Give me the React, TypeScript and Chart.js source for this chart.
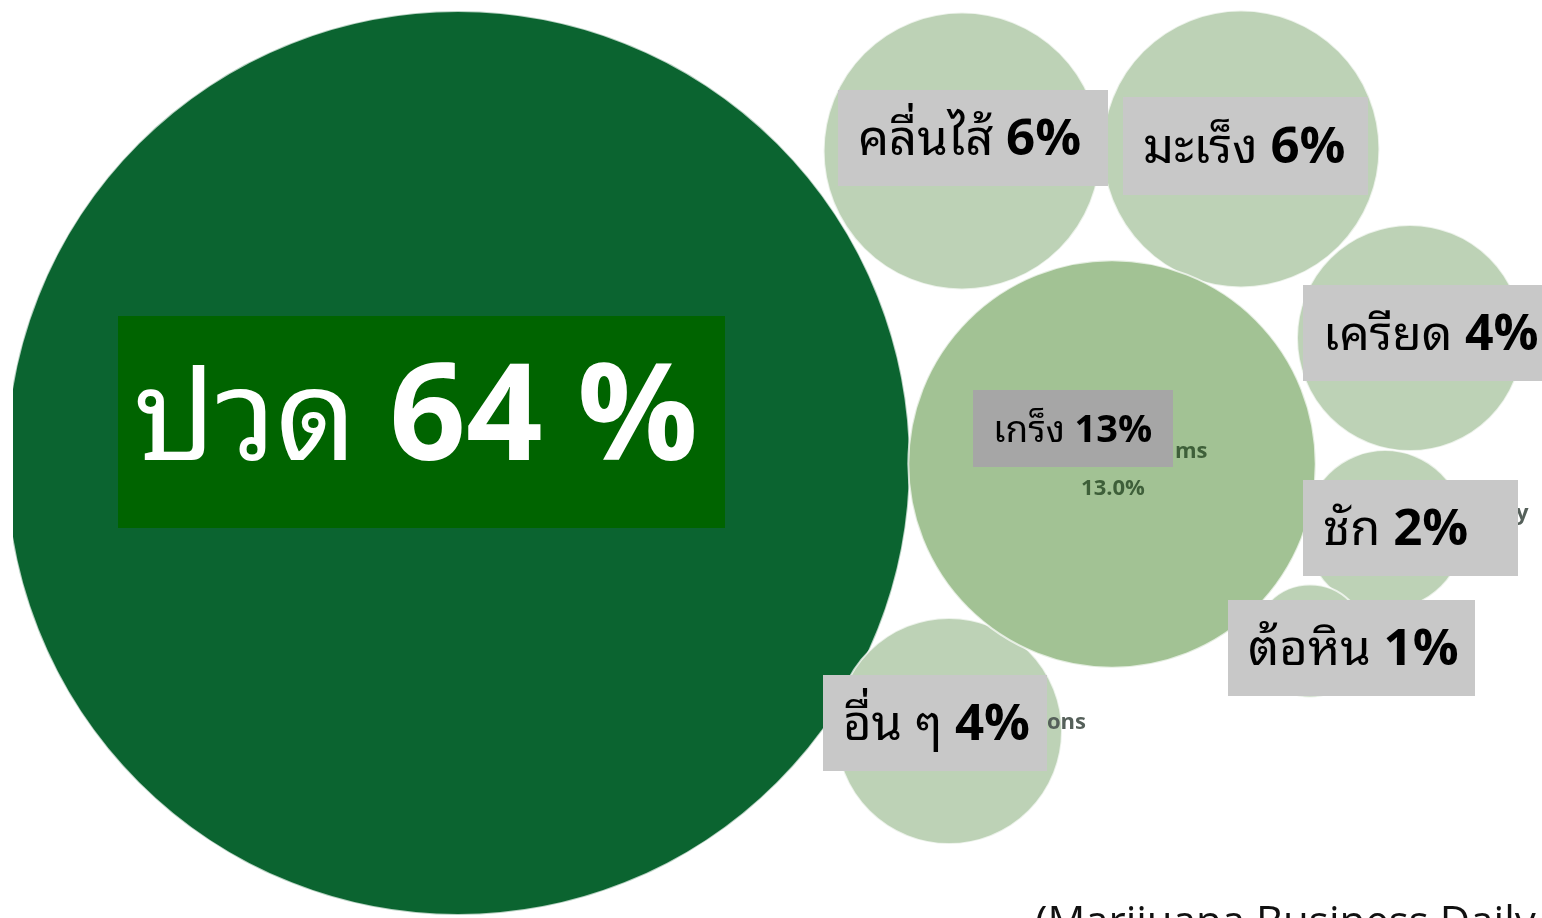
import React, { useEffect, useRef } from "react";
import { Chart, registerables } from "chart.js";

Chart.register(...registerables);

// ---- data ----
const CATEGORIES = ["ปวด", "คลื่นไส้", "มะเร็ง", "เครียด", "ชัก", "ต้อหิน", "อื่น ๆ", "เกร็ง"];
const VALUES = [64, 6, 6, 4, 2, 1, 4, 13];
const VALUE_LABELS = ["64 %", "6%", "6%", "4%", "2%", "1%", "4%", "13%"];
// bubble layout coordinates (data units)
const BUBBLE_X = [458, 962, 1241, 1410, 1385, 1310, 949, 1112];
const BUBBLE_Y = [463, 151, 149, 338, 530, 641, 731, 464];
const SOURCE_TEXT = "(Marijuana Business Daily";

// ---- styles / layout ----
const W = 1542;
const H = 918;
const RADIUS_PER_SQRT = 56.5;
const THAI_FONT = "'Noto Sans Thai Looped', Loma, Garuda, 'Noto Sans Thai', 'Noto Sans', sans-serif";
const NUM_FONT = "'Open Sans', 'Noto Sans', sans-serif";
const COLORS = ["#0B6430", "#BDD2B6", "#BDD2B6", "#BDD2B6", "#BDD2B6", "#BDD2B6", "#BDD2B6", "#A2C294"];
const LABEL_STYLE = [
  { dx: -340, dy: -147, w: 607, h: 212, fs: 126, nfs: 134, base: 144, pad: 16, bg: "#006400", fg: "#FFFFFF" },
  { dx: -124, dy: -61, w: 270, h: 96, fs: 49, nfs: 51, base: 65, pad: 20, bg: "#C8C8C8", fg: "#000000" },
  { dx: -118, dy: -52, w: 245, h: 98, fs: 49, nfs: 51, base: 66, pad: 20, bg: "#C8C8C8", fg: "#000000" },
  { dx: -107, dy: -53, w: 239, h: 96, fs: 48, nfs: 50, base: 65, pad: 20, bg: "#C8C8C8", fg: "#000000" },
  { dx: -82, dy: -50, w: 215, h: 96, fs: 49, nfs: 51, base: 65, pad: 20, bg: "#C8C8C8", fg: "#000000" },
  { dx: -82, dy: -41, w: 247, h: 96, fs: 49, nfs: 51, base: 65, pad: 20, bg: "#C8C8C8", fg: "#000000" },
  { dx: -126, dy: -56, w: 224, h: 96, fs: 49, nfs: 51, base: 65, pad: 20, bg: "#C8C8C8", fg: "#000000" },
  { dx: -139, dy: -74, w: 200, h: 77, fs: 37, nfs: 38, base: 52, pad: 20, bg: "#A6A6A6", fg: "#000000" },
];

const labelPlugin = {
  id: "bubbleLabels",
  afterDatasetsDraw(chart: any) {
    const ctx = chart.ctx as CanvasRenderingContext2D;
    const meta = chart.getDatasetMeta(0);
    ctx.save();
    // faint residual labels under the boxes
    const p7 = meta.data[7];
    ctx.fillStyle = "#3E5F39";
    ctx.font = `bold 22px 'Open Sans', sans-serif`;
    ctx.textAlign = "left";
    ctx.fillText("ms", p7.x + 63, p7.y - 6);
    ctx.textAlign = "center";
    ctx.fillText("13.0%", p7.x + 1, p7.y + 31);
    const p6 = meta.data[6];
    ctx.textAlign = "left";
    ctx.fillStyle = "#55605A";
    ctx.fillText("ons", p6.x + 98, p6.y - 2);
    ctx.fillText("y", W - 26, 520);

    meta.data.forEach((pt: any, i: number) => {
      const s = LABEL_STYLE[i];
      const bx = pt.x + s.dx;
      const by = pt.y + s.dy;
      ctx.fillStyle = s.bg;
      ctx.fillRect(bx, by, s.w, s.h);
      ctx.fillStyle = s.fg;
      ctx.textAlign = "left";
      ctx.textBaseline = "alphabetic";
      ctx.font = `${s.fs}px ${THAI_FONT}`;
      const word = CATEGORIES[i] + " ";
      const ww = ctx.measureText(word).width;
      ctx.fillText(word, bx + s.pad, by + s.base);
      ctx.font = `bold ${s.nfs}px ${NUM_FONT}`;
      ctx.fillText(VALUE_LABELS[i], bx + s.pad + ww, by + s.base);
    });

    ctx.fillStyle = "#111111";
    ctx.font = `42px 'Open Sans', sans-serif`;
    ctx.textAlign = "left";
    ctx.fillText(SOURCE_TEXT, 1035, 936);
    ctx.restore();
  },
};

export default function App() {
  const ref = useRef<HTMLCanvasElement>(null);
  useEffect(() => {
    if (!ref.current) return;
    const chart = new Chart(ref.current, {
      type: "bubble",
      data: {
        labels: CATEGORIES,
        datasets: [
          {
            data: VALUES.map((v, i) => ({ x: BUBBLE_X[i], y: BUBBLE_Y[i], r: RADIUS_PER_SQRT * Math.sqrt(v) })),
            backgroundColor: COLORS,
            borderColor: "rgba(255,255,255,0.7)",
            borderWidth: 2,
            clip: 0,
          } as any,
        ],
      },
      options: {
        responsive: false,
        animation: false,
        events: [],
        layout: { padding: { left: 13, right: 0, top: 0, bottom: 0 }, autoPadding: false } as any,
        plugins: { legend: { display: false }, tooltip: { enabled: false } },
        scales: {
          x: { type: "linear", min: 13, max: W, display: false },
          y: { type: "linear", min: 0, max: H, reverse: true, display: false },
        },
      },
      plugins: [labelPlugin],
    });
    return () => chart.destroy();
  }, []);
  return (
    <div style={{ position: "fixed", left: 0, top: 0, width: W, height: H, background: "#fff", overflow: "hidden" }}>
      <canvas ref={ref} width={W} height={H} style={{ display: "block", width: W, height: H }} />
    </div>
  );
}
